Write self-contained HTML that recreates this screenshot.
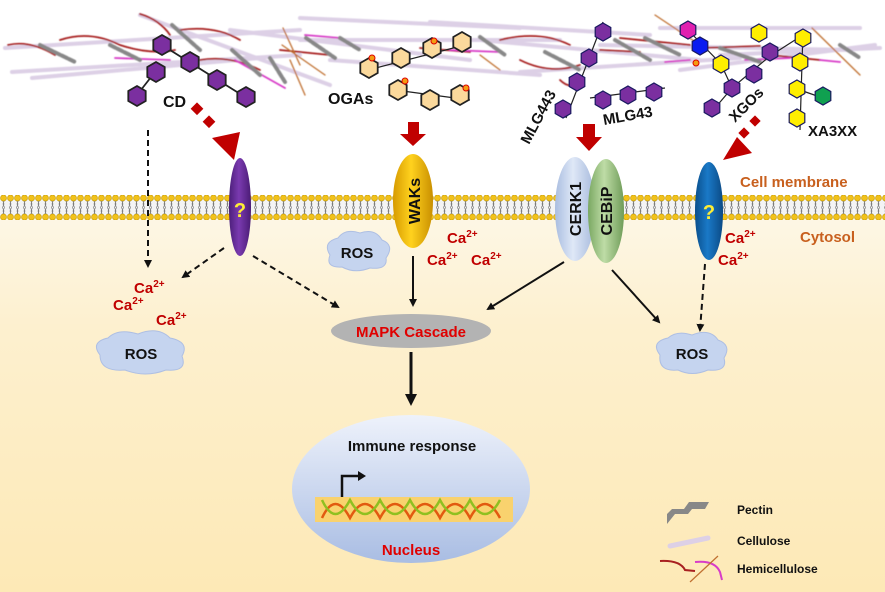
<!DOCTYPE html>
<html><head><meta charset="utf-8"><style>
html,body{margin:0;padding:0;background:#fff}
svg{display:block}
text{font-family:"Liberation Sans",Arial,sans-serif;font-weight:bold}
</style></head><body>
<svg width="885" height="592" viewBox="0 0 885 592" xmlns="http://www.w3.org/2000/svg">
<defs>
<linearGradient id="cyto" x1="0" y1="0" x2="0" y2="1">
<stop offset="0" stop-color="#fdf7e6"/><stop offset="0.3" stop-color="#fdf0cf"/><stop offset="1" stop-color="#fde9b6"/></linearGradient>
<linearGradient id="nuc" x1="0" y1="0" x2="0" y2="1">
<stop offset="0" stop-color="#eef2fb"/><stop offset="1" stop-color="#a9bde3"/></linearGradient>
<linearGradient id="wak" x1="0" y1="0" x2="1" y2="0">
<stop offset="0" stop-color="#d69a00"/><stop offset="0.45" stop-color="#ffd21e"/><stop offset="1" stop-color="#c98f00"/></linearGradient>
<linearGradient id="pur" x1="0" y1="0" x2="1" y2="0">
<stop offset="0" stop-color="#4c1f7a"/><stop offset="0.45" stop-color="#7a3ab0"/><stop offset="1" stop-color="#4a1c75"/></linearGradient>
<linearGradient id="blu" x1="0" y1="0" x2="1" y2="0">
<stop offset="0" stop-color="#0a4f8c"/><stop offset="0.45" stop-color="#1a79c7"/><stop offset="1" stop-color="#0b4a85"/></linearGradient>
<linearGradient id="cer" x1="0" y1="0" x2="1" y2="0">
<stop offset="0" stop-color="#a9bde0"/><stop offset="0.45" stop-color="#dfe8f7"/><stop offset="1" stop-color="#a6b9dc"/></linearGradient>
<linearGradient id="ceb" x1="0" y1="0" x2="1" y2="0">
<stop offset="0" stop-color="#7aa862"/><stop offset="0.45" stop-color="#bedca6"/><stop offset="1" stop-color="#6f9c58"/></linearGradient>
<pattern id="mem" x="0" y="195" width="7" height="25" patternUnits="userSpaceOnUse">
<path d="M2.5 5 L4 9 L2.5 12.5 M4.5 5 L3 9 L4.5 12.5 M2.5 12.5 L4 16 L2.5 20 M4.5 12.5 L3 16 L4.5 20" stroke="#777" stroke-width="0.7" fill="none"/>
<circle cx="3.5" cy="3" r="3" fill="#f2c21a" stroke="#c69a00" stroke-width="0.6"/>
<circle cx="3.5" cy="22" r="3" fill="#f2c21a" stroke="#c69a00" stroke-width="0.6"/>
</pattern>
<symbol id="hx" overflow="visible"><polygon points="0,-10 8.7,-5 8.7,5 0,10 -8.7,5 -8.7,-5" stroke="#222" stroke-width="1.8"/></symbol>
<symbol id="hs" overflow="visible"><polygon points="0,-9 7.8,-4.5 7.8,4.5 0,9 -7.8,4.5 -7.8,-4.5" stroke="#1a1a60" stroke-width="1.2"/></symbol>
<marker id="ah" markerWidth="8" markerHeight="8" refX="6" refY="4" orient="auto" markerUnits="userSpaceOnUse"><path d="M0,0 L8,4 L0,8 Z" fill="#111"/></marker>
<marker id="ahb" markerWidth="12" markerHeight="12" refX="9" refY="6" orient="auto" markerUnits="userSpaceOnUse"><path d="M0,0 L12,6 L0,12 Z" fill="#111"/></marker>
<filter id="bl"><feGaussianBlur stdDeviation="0.6"/></filter>
</defs>

<rect x="0" y="212" width="885" height="380" fill="url(#cyto)"/>
<rect x="0" y="197" width="885" height="22" fill="#f4f4f4"/>
<rect x="0" y="195" width="885" height="25" fill="url(#mem)"/>

<!-- cell wall fibers -->
<g stroke-linecap="round" fill="none" filter="url(#bl)">
<g stroke="#ddd0e6" stroke-width="4">
<path d="M5 48 L300 30"/><path d="M12 72 L300 55"/><path d="M32 78 L260 58"/><path d="M140 15 L330 85"/>
<path d="M230 30 L470 60"/><path d="M300 18 L520 28"/><path d="M300 40 L560 40"/><path d="M330 60 L540 75"/>
<path d="M430 22 L650 35"/><path d="M480 40 L700 60"/><path d="M520 72 L740 58"/><path d="M600 45 L850 50"/>
<path d="M660 28 L860 28"/><path d="M680 70 L875 45"/><path d="M720 55 L880 48"/>
</g>
<g stroke="#a82020" stroke-width="1.8">
<path d="M8 45 Q30 40 55 55"/><path d="M60 40 Q90 30 120 45 Q150 55 175 50"/><path d="M140 14 Q160 20 170 35"/>
<path d="M180 30 Q215 25 240 40"/><path d="M200 60 Q230 55 260 70"/><path d="M280 50 L330 55"/>
<path d="M420 48 L470 52"/><path d="M500 40 Q540 30 570 45"/><path d="M520 60 Q550 75 580 65"/>
<path d="M600 50 L640 52"/><path d="M620 38 L690 45"/><path d="M700 48 L760 46"/><path d="M770 55 L820 60"/>
<path d="M560 80 Q570 90 580 82"/>
</g>
<g stroke="#d83cc8" stroke-width="1.8">
<path d="M115 58 L170 60"/><path d="M235 60 L285 88"/><path d="M305 35 L340 38"/><path d="M450 50 L500 52"/>
<path d="M665 62 L690 60"/><path d="M745 60 L790 58"/><path d="M820 60 L840 62"/>
</g>
<g stroke="#c07030" stroke-width="1.3">
<path d="M283 28 L300 65"/><path d="M290 60 L305 95"/><path d="M282 45 L325 75"/><path d="M655 15 L700 45"/><path d="M812 28 L860 75"/><path d="M480 55 L500 70"/>
</g>
<g stroke="#888" stroke-width="4" stroke-dasharray="6 2">
<path d="M40 45 L75 62"/><path d="M110 45 L140 60"/><path d="M172 25 L200 50"/><path d="M232 50 L260 75"/>
<path d="M270 58 L285 82"/><path d="M306 38 L335 58"/><path d="M340 38 L360 50"/><path d="M480 37 L505 55"/>
<path d="M545 52 L580 70"/><path d="M615 40 L650 60"/><path d="M645 38 L680 55"/><path d="M720 48 L760 62"/><path d="M840 45 L860 58"/>
</g>
</g>

<!-- CD -->
<g stroke="#222" stroke-width="1.8" fill="none"><path d="M162 45 L245 97 M155 72 L137 95"/></g>
<g fill="#7b2fa0">
<use href="#hx" x="162" y="45"/><use href="#hx" x="190" y="62"/><use href="#hx" x="217" y="80"/><use href="#hx" x="246" y="97"/>
<use href="#hx" x="156" y="72"/><use href="#hx" x="137" y="96"/></g>
<text x="163" y="107" font-size="16" fill="#111">CD</text>

<!-- OGAs -->
<g stroke="#222" stroke-width="1.2" fill="none"><path d="M368 70 L465 45 M395 90 L470 100"/></g>
<g fill="#fbd99c" stroke="#222" stroke-width="1.5">
<use href="#hx" x="369" y="68"/><use href="#hx" x="401" y="58"/><use href="#hx" x="432" y="48"/><use href="#hx" x="462" y="42"/>
<use href="#hx" x="398" y="90"/><use href="#hx" x="430" y="100"/><use href="#hx" x="460" y="95"/></g>
<g fill="#f39c12" stroke="#d00" stroke-width="1"><circle cx="372" cy="58" r="3"/><circle cx="434" cy="41" r="3"/><circle cx="405" cy="81" r="3"/><circle cx="466" cy="88" r="3"/></g>
<text x="328" y="104" font-size="16" fill="#111">OGAs</text>

<!-- MLG -->
<g stroke="#222" stroke-width="1.2" fill="none"><path d="M603 22 L566 118 M590 98 L665 88"/></g>
<g fill="#7b2fa0"><use href="#hs" x="603" y="32"/><use href="#hs" x="589" y="58"/><use href="#hs" x="577" y="82"/><use href="#hs" x="563" y="109"/>
<use href="#hs" x="603" y="100"/><use href="#hs" x="628" y="95"/><use href="#hs" x="654" y="92"/></g>
<text transform="translate(529,145) rotate(-62)" font-size="15" fill="#111">MLG443</text>
<text transform="translate(604,125) rotate(-10)" font-size="15" fill="#111">MLG43</text>

<!-- XGOs -->
<g stroke="#222" stroke-width="1.2" fill="none"><path d="M688 30 L721 64 L732 88 L715 108 M732 88 L770 56 L795 40"/></g>
<use href="#hs" x="688" y="30" fill="#e020b0"/><use href="#hs" x="700" y="46" fill="#0a1cf0"/>
<use href="#hs" x="721" y="64" fill="#ffee00"/>
<g fill="#7b2fa0"><use href="#hs" x="732" y="88"/><use href="#hs" x="712" y="108"/><use href="#hs" x="754" y="74"/><use href="#hs" x="770" y="52"/></g>
<use href="#hs" x="759" y="33" fill="#ffee00"/>
<circle cx="696" cy="63" r="3" fill="#f39c12" stroke="#d00"/>
<text transform="translate(735,123) rotate(-45)" font-size="15" fill="#111">XGOs</text>
<!-- XA3XX -->
<g stroke="#222" stroke-width="1.2" fill="none"><path d="M803 30 L800 130 M800 90 L820 97"/></g>
<g fill="#ffee00"><use href="#hs" x="803" y="38"/><use href="#hs" x="800" y="62"/><use href="#hs" x="797" y="89"/><use href="#hs" x="797" y="118"/></g>
<use href="#hs" x="823" y="96" fill="#10a050"/>
<text x="808" y="136" font-size="15" fill="#111">XA3XX</text>

<!-- red arrows -->
<g fill="#c00000">
<rect x="193" y="104" width="9" height="9" transform="rotate(45 197 108)"/>
<rect x="205" y="117" width="9" height="9" transform="rotate(45 209 121)"/>
<polygon points="212,138 240,132 234,160"/>
<polygon points="408,122 419,122 419,134 426,134 413,146 400,134 408,134"/>
<polygon points="583,124 595,124 595,137 602,137 589,151 576,137 583,137"/>
<rect x="751" y="117" width="8" height="8" transform="rotate(45 755 121)"/>
<rect x="740" y="129" width="8" height="8" transform="rotate(45 744 133)"/>
<polygon points="723,160 737,137 752,153"/>
</g>

<!-- receptors -->
<ellipse cx="240" cy="207" rx="11" ry="49" fill="url(#pur)"/>
<text x="240" y="217" font-size="20" fill="#ffee33" text-anchor="middle">?</text>
<ellipse cx="413" cy="201" rx="20" ry="47" fill="url(#wak)"/>
<text transform="translate(420,201) rotate(-90)" font-size="16" fill="#111" text-anchor="middle">WAKs</text>
<ellipse cx="575" cy="209" rx="20" ry="52" fill="url(#cer)"/>
<text transform="translate(581,209) rotate(-90)" font-size="16" fill="#111" text-anchor="middle">CERK1</text>
<ellipse cx="606" cy="211" rx="18" ry="52" fill="url(#ceb)"/>
<text transform="translate(612,211) rotate(-90)" font-size="16" fill="#111" text-anchor="middle">CEBiP</text>
<ellipse cx="709" cy="211" rx="14" ry="49" fill="url(#blu)"/>
<text x="709" y="219" font-size="20" fill="#ffee33" text-anchor="middle">?</text>

<text x="740" y="187" font-size="15" fill="#c8601e">Cell membrane</text>
<text x="800" y="242" font-size="15" fill="#c8601e">Cytosol</text>

<!-- Ca labels -->
<g font-size="15" fill="#c00000">
<text x="134" y="293">Ca<tspan font-size="10" dy="-6">2+</tspan></text>
<text x="113" y="310">Ca<tspan font-size="10" dy="-6">2+</tspan></text>
<text x="156" y="325">Ca<tspan font-size="10" dy="-6">2+</tspan></text>
<text x="447" y="243">Ca<tspan font-size="10" dy="-6">2+</tspan></text>
<text x="427" y="265">Ca<tspan font-size="10" dy="-6">2+</tspan></text>
<text x="471" y="265">Ca<tspan font-size="10" dy="-6">2+</tspan></text>
<text x="725" y="243">Ca<tspan font-size="10" dy="-6">2+</tspan></text>
<text x="718" y="265">Ca<tspan font-size="10" dy="-6">2+</tspan></text>
</g>

<!-- ROS clouds -->
<g fill="#c5d4ef" stroke="#aebfe3" stroke-width="1">
<path d="M330 255 Q322 242 338 238 Q345 228 360 233 Q375 228 382 240 Q395 245 386 258 Q388 270 370 268 Q355 274 342 267 Q325 268 330 255Z"/>
<path d="M100 355 Q90 342 108 338 Q118 328 138 334 Q158 326 170 338 Q190 342 182 356 Q188 372 166 370 Q145 378 125 370 Q100 372 100 355Z"/>
<path d="M660 355 Q650 342 668 338 Q677 330 692 335 Q710 328 718 340 Q732 345 724 358 Q728 372 708 370 Q692 377 678 370 Q658 372 660 355Z"/>
</g>
<g font-size="15" fill="#111" text-anchor="middle">
<text x="357" y="258">ROS</text><text x="141" y="359">ROS</text><text x="692" y="359">ROS</text></g>

<!-- connectors -->
<g stroke="#111" stroke-width="2" fill="none">
<path d="M148 130 L148 266" stroke-dasharray="6 4" marker-end="url(#ah)"/>
<path d="M224 248 L183 277" stroke-dasharray="6 4" marker-end="url(#ah)"/>
<path d="M253 256 L338 307" stroke-dasharray="6 4" marker-end="url(#ah)"/>
<path d="M705 264 L700 330" stroke-dasharray="6 4" marker-end="url(#ah)"/>
<path d="M413 256 L413 305" marker-end="url(#ah)"/>
<path d="M564 262 L488 309" marker-end="url(#ah)"/>
<path d="M612 270 L659 322" marker-end="url(#ah)"/>
<path d="M411 352 L411 403" stroke-width="3" marker-end="url(#ahb)"/>
</g>

<!-- MAPK -->
<ellipse cx="411" cy="331" rx="80" ry="17" fill="#b3b3b3"/>
<text x="411" y="337" font-size="15" fill="#e00000" text-anchor="middle">MAPK Cascade</text>

<!-- Nucleus -->
<ellipse cx="411" cy="489" rx="119" ry="74" fill="url(#nuc)"/>
<text x="412" y="451" font-size="15" fill="#111" text-anchor="middle">Immune response</text>
<path d="M342 497 L342 476 L360 476" stroke="#111" stroke-width="2.5" fill="none"/>
<polygon points="358,471 366,476 358,481" fill="#111"/>
<rect x="315" y="497" width="198" height="25" fill="#f9d26e"/>
<g fill="none" stroke-width="2.5">
<path d="M322 518 Q335 490 350 518 Q365 490 380 518 Q395 490 410 518 Q425 490 440 518 Q455 490 470 518 Q485 490 500 518" stroke="#e25a10"/>
<path d="M322 500 Q335 528 350 500 Q365 528 380 500 Q395 528 410 500 Q425 528 440 500 Q455 528 470 500 Q485 528 500 500" stroke="#8fc020"/>
</g>
<text x="411" y="555" font-size="15" fill="#e00000" text-anchor="middle">Nucleus</text>

<!-- legend -->
<polygon points="667,524 675,514 688,514 692,509 705,509 709,502 689,502 684,509 672,509 667,514" fill="#888"/>
<path d="M670 546 L708 538" stroke="#ddd0e6" stroke-width="5" stroke-linecap="round"/>
<path d="M660 561 Q680 560 685 570 L695 571" stroke="#a82020" stroke-width="2" fill="none"/>
<path d="M695 562 Q715 560 720 572 L722 580" stroke="#d83cc8" stroke-width="2" fill="none"/>
<path d="M690 582 L718 556" stroke="#c07030" stroke-width="1.2"/>
<g font-size="12" fill="#111"><text x="737" y="514">Pectin</text><text x="737" y="545">Cellulose</text><text x="737" y="573">Hemicellulose</text></g>
</svg>
</body></html>
